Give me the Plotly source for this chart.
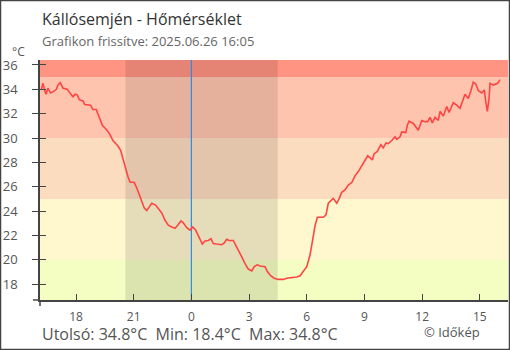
import plotly.graph_objects as go

# ---- data (hours since previous day's midnight; 24 = 0:00 today) ----
TIME_H = [16.20, 16.28, 16.34, 16.44, 16.54, 16.68, 16.86, 16.98, 17.06, 17.18,
          17.32, 17.55, 17.67, 17.84, 17.96, 18.07, 18.17, 18.36, 18.45, 18.76,
          18.88, 19.06, 19.11, 19.23, 19.37, 19.58, 19.75, 19.92, 20.18, 20.32,
          20.44, 20.56, 20.70, 20.81, 21.03, 21.16, 21.28, 21.42, 21.55, 21.68,
          21.80, 21.94, 22.14, 22.28, 22.46, 22.63, 22.80, 22.98, 23.15, 23.29,
          23.46, 23.58, 23.76, 23.93, 24.07, 24.22, 24.36, 24.57, 24.71, 24.88,
          25.02, 25.14, 25.30, 25.58, 25.71, 25.84, 25.96, 26.18, 26.31, 26.44,
          26.62, 26.79, 26.96, 27.14, 27.27, 27.43, 27.57, 27.83, 27.95, 28.12,
          28.31, 28.52, 28.78, 28.96, 29.30, 29.48, 29.65, 29.82, 30.00, 30.17,
          30.31, 30.43, 30.55, 30.86, 31.00, 31.12, 31.38, 31.56, 31.69, 31.82,
          31.99, 32.16, 32.34, 32.51, 32.68, 32.86, 33.03, 33.17, 33.29, 33.41,
          33.50, 33.67, 33.85, 33.98, 34.12, 34.24, 34.42, 34.59, 34.68, 34.85,
          34.94, 35.15, 35.23, 35.32, 35.54, 35.80, 35.98, 36.15, 36.29, 36.41,
          36.53, 36.67, 36.84, 36.93, 37.10, 37.28, 37.40, 37.62, 37.80, 37.97,
          38.23, 38.40, 38.54, 38.66, 38.79, 38.92, 39.10, 39.23, 39.31, 39.39,
          39.48, 39.53, 39.70, 39.93, 40.05]
TEMP = [34.0, 34.5, 34.1, 33.6, 34.1, 33.7, 33.85, 34.0, 34.35, 34.55,
        34.1, 34.0, 33.75, 33.4, 33.6, 33.55, 33.15, 33.05, 32.75, 32.7,
        32.35, 32.35, 32.1, 31.55, 31.05, 30.7, 30.35, 29.8, 29.35, 29.0,
        28.35, 27.5, 26.85, 26.4, 26.35, 25.9, 25.35, 24.7, 24.25, 24.05,
        24.3, 24.65, 24.5, 24.25, 23.85, 23.25, 22.85, 22.7, 22.6, 22.85,
        23.2, 23.05, 22.65, 22.45, 22.7, 22.45, 21.95, 21.3, 21.55, 21.6,
        21.75, 21.35, 21.3, 21.25, 21.4, 21.7, 21.6, 21.6, 21.2, 20.75,
        20.25, 19.7, 19.25, 19.1, 19.45, 19.6, 19.5, 19.45, 19.05, 18.7,
        18.5, 18.4, 18.4, 18.5, 18.55, 18.6, 18.7, 19.05, 19.45, 20.4,
        21.9, 22.8, 23.5, 23.5, 23.7, 24.65, 25.05, 24.65, 25.05, 25.55,
        25.75, 26.15, 26.35, 26.9, 27.25, 27.7, 28.2, 28.55, 28.4, 28.2,
        28.7, 28.9, 29.45, 29.2, 29.6, 29.55, 29.8, 30.1, 29.9, 30.1,
        30.5, 30.45, 31.05, 31.4, 31.2, 30.65, 31.45, 31.35, 31.35, 31.7,
        31.25, 31.7, 31.45, 32.2, 31.8, 32.6, 32.1, 32.9, 32.7, 32.45,
        33.6, 33.25, 33.9, 34.6, 34.45, 33.9, 33.7, 33.95, 33.0, 32.2,
        33.25, 34.5, 34.35, 34.5, 34.8]

X_TICK_VALS = [18, 21, 24, 27, 30, 33, 36, 39]
X_TICK_TEXT = ["18", "21", "0", "3", "6", "9", "12", "15"]
Y_TICK_VALS = [18, 20, 22, 24, 26, 28, 30, 32, 34, 36]

X_RANGE = [16.128, 40.465]
Y_RANGE = [16.71, 36.41]

BAND_EDGES = [Y_RANGE[0], 20, 25, 30, 35, Y_RANGE[1]]
BAND_COLORS = ["#F4FDC2", "#FFF7CE", "#FCDCBE", "#FFC4AE", "#FF9482"]

SUNSET_H = 20.57   # 20:34
SUNRISE_H = 28.49  # 04:29 next day
MIDNIGHT_H = 24

TITLE = "Kállósemjén - Hőmérséklet"
SUBTITLE = "Grafikon frissítve: 2025.06.26 16:05"
FOOTER = "Utolsó: 34.8°C\u00a0\u00a0Min: 18.4°C\u00a0\u00a0Max: 34.8°C"
CREDIT = "© Időkép"

W, H = 510, 350
ML, MR, MT, MB = 40, 2, 60, 50
PW, PH = W - ML - MR, H - MT - MB

fig = go.Figure()

shapes = []
for i, c in enumerate(BAND_COLORS):
    shapes.append(dict(type="rect", xref="paper", yref="y", x0=0, x1=1,
                       y0=BAND_EDGES[i], y1=BAND_EDGES[i + 1],
                       fillcolor=c, line_width=0, layer="below"))
shapes.append(dict(type="rect", xref="x", yref="paper", x0=SUNSET_H, x1=SUNRISE_H,
                   y0=0, y1=1, fillcolor="rgba(0,0,0,0.1)", line_width=0, layer="below"))
shapes.append(dict(type="line", xref="x", yref="paper", x0=MIDNIGHT_H, x1=MIDNIGHT_H,
                   y0=0, y1=1, line=dict(color="#2E8CE6", width=1.2), layer="below"))
# axis crossing stubs
shapes.append(dict(type="line", xref="paper", yref="paper", x0=-7 / PW, x1=0, y0=0, y1=0,
                   line=dict(color="#444", width=1.5)))
shapes.append(dict(type="line", xref="paper", yref="paper", x0=0, x1=0, y0=-6 / PH, y1=0,
                   line=dict(color="#444", width=1.5)))
# outer frame
shapes.append(dict(type="rect", xref="paper", yref="paper",
                   x0=(-ML + 0.5) / PW, x1=1 + (MR - 0.5) / PW,
                   y0=(-MB + 0.5) / PH, y1=1 + (MT - 0.5) / PH,
                   line=dict(color="#444", width=1.5), fillcolor="rgba(0,0,0,0)"))

fig.add_trace(go.Scatter(x=TIME_H, y=TEMP, mode="lines",
                         line=dict(color="#FF4444", width=1.6), hoverinfo="skip"))
# invisible trace on overlay axis for inside ticks
fig.add_trace(go.Scatter(x=[X_RANGE[0]], y=[Y_RANGE[0]], yaxis="y2", mode="markers",
                         marker=dict(opacity=0), hoverinfo="skip"))

fig.update_layout(
    width=W, height=H,
    margin=dict(l=ML, r=MR, t=MT, b=MB),
    paper_bgcolor="white", plot_bgcolor="white",
    showlegend=False,
    font=dict(family="Open Sans", color="#555"),
    shapes=shapes,
    xaxis=dict(range=X_RANGE, tickvals=X_TICK_VALS, ticktext=X_TICK_TEXT,
               ticks="inside", ticklen=6, tickcolor="#444", tickwidth=1.2,
               showgrid=False, zeroline=False, showline=True, linecolor="#444",
               linewidth=1.5, tickfont=dict(size=12, color="#555"),
               ticklabelstandoff=5, fixedrange=True),
    yaxis=dict(range=Y_RANGE, tickvals=Y_TICK_VALS, ticks="outside", ticklen=6,
               tickcolor="#444", tickwidth=1.2, showgrid=False, zeroline=False,
               showline=True, linecolor="#444", linewidth=1.5,
               tickfont=dict(size=13, color="#555"), ticklabelstandoff=12),
    yaxis2=dict(range=Y_RANGE, overlaying="y", side="left", tickvals=Y_TICK_VALS,
                ticks="inside", ticklen=6, tickcolor="#444", tickwidth=1.2,
                showticklabels=False, showgrid=False, zeroline=False, showline=False),
    annotations=[
        dict(text=TITLE, xref="paper", yref="paper", x=0, y=1 + 41.5 / PH,
             xanchor="left", yanchor="middle", showarrow=False,
             font=dict(size=16, color="#333")),
        dict(text=SUBTITLE, xref="paper", yref="paper", x=0, y=1 + 19 / PH,
             xanchor="left", yanchor="middle", showarrow=False,
             font=dict(size=13, color="#666")),
        dict(text="°C", xref="paper", yref="paper", x=-21.5 / PW, y=1 + 8 / PH,
             xanchor="center", yanchor="middle", showarrow=False,
             font=dict(size=12, color="#555")),
        dict(text=FOOTER, xref="paper", yref="paper", x=0, y=-33.5 / PH,
             xanchor="left", yanchor="middle", showarrow=False,
             font=dict(size=16, color="#555")),
        dict(text=CREDIT, xref="paper", yref="paper", x=(481.7 - ML) / PW, y=-32 / PH,
             xanchor="right", yanchor="middle", showarrow=False,
             font=dict(size=13, color="#555")),
    ],
)

fig.write_html("out.html", config={"displayModeBar": False})
